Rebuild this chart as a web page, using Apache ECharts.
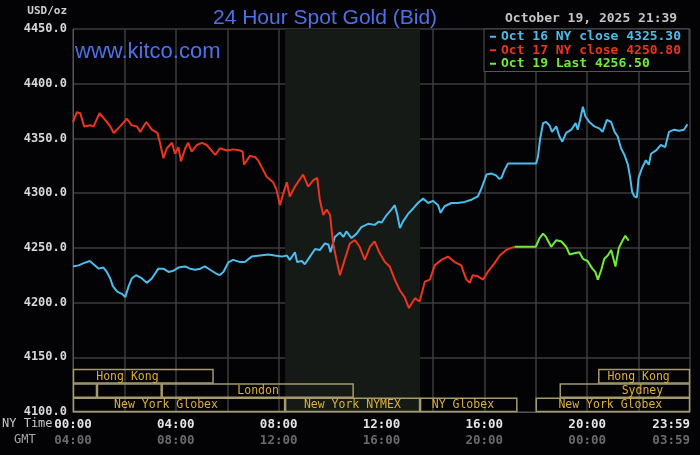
<!DOCTYPE html>
<html>
<head>
<meta charset="utf-8">
<script src="https://cdn.jsdelivr.net/npm/echarts@6/dist/echarts.min.js"></script>
<style>
html,body{margin:0;padding:0;background:#030305;}
#chart{width:700px;height:455px;}
</style>
</head>
<body>
<div id="chart"></div>
<script>
// minutes after NY midnight, price
var oct16 = [[0,4233],[13,4234],[25,4236],[39,4238],[48,4235],[60,4231],[71,4232],[79,4228],[87,4222],[93,4215],[103,4210],[114,4208],[122,4205],[130,4215],[137,4222],[147,4225],[161,4222],[172,4218],[184,4222],[199,4231],[211,4231],[223,4228],[234,4229],[246,4232],[262,4233],[273,4231],[285,4230],[297,4231],[308,4233],[320,4230],[332,4227],[342,4225],[351,4228],[363,4237],[374,4239],[390,4237],[401,4237],[417,4242],[436,4243],[456,4244],[471,4243],[487,4242],[499,4243],[506,4239],[518,4246],[523,4237],[534,4238],[541,4235],[553,4242],[565,4249],[576,4248],[588,4254],[596,4253],[601,4246],[611,4260],[623,4264],[631,4260],[638,4265],[650,4259],[662,4263],[673,4269],[689,4272],[704,4271],[714,4274],[720,4273],[732,4280],[743,4285],[751,4289],[757,4280],[763,4268],[770,4274],[782,4281],[794,4286],[805,4291],[817,4295],[829,4291],[840,4293],[852,4289],[858,4282],[867,4288],[883,4291],[898,4291],[914,4292],[930,4294],[945,4297],[953,4304],[965,4317],[976,4318],[988,4316],[995,4313],[1000,4314],[1007,4321],[1015,4327],[1081,4327],[1085,4333],[1090,4349],[1097,4364],[1104,4365],[1112,4362],[1118,4356],[1128,4361],[1135,4352],[1142,4347],[1151,4355],[1163,4358],[1173,4364],[1178,4358],[1184,4368],[1190,4379],[1196,4370],[1205,4365],[1217,4361],[1229,4359],[1236,4356],[1246,4367],[1256,4365],[1264,4356],[1271,4352],[1279,4341],[1287,4335],[1295,4326],[1300,4315],[1305,4301],[1310,4297],[1316,4296],[1320,4314],[1328,4323],[1337,4330],[1344,4326],[1349,4336],[1361,4339],[1372,4344],[1382,4342],[1391,4356],[1403,4358],[1415,4357],[1426,4358],[1434,4363]];
var oct17 = [[0,4365],[9,4374],[17,4373],[26,4361],[40,4362],[48,4361],[62,4373],[75,4367],[87,4361],[95,4355],[110,4361],[126,4368],[137,4362],[149,4361],[157,4356],[171,4365],[184,4358],[197,4355],[203,4346],[207,4339],[211,4332],[219,4341],[231,4346],[238,4336],[246,4342],[252,4329],[262,4341],[269,4346],[277,4338],[289,4344],[301,4346],[312,4344],[332,4335],[343,4341],[359,4339],[374,4340],[390,4339],[396,4338],[399,4326],[413,4334],[425,4333],[432,4330],[440,4324],[452,4315],[467,4310],[475,4303],[483,4289],[491,4300],[499,4310],[506,4297],[518,4306],[537,4317],[549,4306],[561,4312],[570,4314],[576,4294],[584,4280],[592,4285],[600,4280],[607,4254],[615,4239],[623,4225],[634,4239],[646,4254],[658,4257],[669,4251],[681,4239],[693,4251],[704,4256],[716,4245],[728,4237],[739,4233],[751,4221],[763,4211],[774,4205],[784,4195],[798,4204],[809,4201],[821,4219],[833,4221],[844,4234],[860,4239],[875,4242],[891,4237],[906,4234],[918,4221],[926,4218],[933,4225],[945,4224],[957,4221],[968,4228],[984,4236],[996,4243],[1011,4248],[1023,4250],[1031,4251]];
var oct19 = [[1031,4251],[1080,4251],[1083,4251],[1089,4259],[1097,4263],[1104,4260],[1116,4251],[1128,4257],[1139,4256],[1151,4251],[1159,4244],[1170,4245],[1182,4246],[1190,4240],[1201,4238],[1212,4231],[1219,4228],[1225,4221],[1233,4230],[1240,4240],[1248,4243],[1256,4248],[1266,4233],[1274,4250],[1283,4257],[1289,4261],[1297,4256.5]];

var legendNames = ['Oct 16 NY close 4325.30', 'Oct 17 NY close 4250.80', 'Oct 19 Last 4256.50'];
var lineColors = ['#4cbcec', '#ec3420', '#70ec38'];

var tickMinutes = [0, 240, 480, 720, 960, 1200, 1440];
var nyTicks = ['00:00', '04:00', '08:00', '12:00', '16:00', '20:00', '23:59'];
var gmtTicks = ['04:00', '08:00', '12:00', '16:00', '20:00', '00:00', '03:59'];

// market sessions: row 0 is the bottom row
var sessionNames = ['Hong Kong', '', '', 'London', 'New York Globex', 'New York NYMEX', 'NY Globex', 'New York Globex', 'Sydney', 'Hong Kong'];
var sessionStart = [0, 0, 56, 207, 0, 495, 810, 1080, 1136, 1226];
var sessionEnd = [328, 56, 207, 655, 495, 810, 1037, 1440, 1440, 1440];
var sessionRow = [2, 1, 1, 1, 0, 0, 0, 0, 1, 2];
var sessionLabelAt = [127, 0, 0, 432, 217, 652, 910, 1254, 1329, 1320];
var nymexShade = [495, 810];

var mono = 'DejaVu Sans Mono';

var sessionData = [];
for (var i = 0; i < sessionNames.length; i++) {
	sessionData.push([sessionStart[i], sessionEnd[i], sessionRow[i], sessionLabelAt[i]]);
}

var series = [
	{
		name: 'shade',
		type: 'line',
		data: [],
		z: 1,
		markArea: {
			silent: true,
			itemStyle: { color: '#161a16' },
			data: [[{ xAxis: nymexShade[0] }, { xAxis: nymexShade[1] }]]
		}
	},
	{
		type: 'custom',
		z: 4,
		silent: true,
		data: sessionData,
		renderItem: function (params, api) {
			var rowH = 14.3;
			var a = api.coord([api.value(0), 4100]);
			var b = api.coord([api.value(1), 4100]);
			var top = a[1] - (api.value(2) + 1) * rowH;
			var children = [{
				type: 'rect',
				shape: { x: a[0] + 0.5, y: top + 0.5, width: b[0] - a[0] - 1, height: rowH - 1 },
				style: { fill: null, stroke: '#a49a6c', lineWidth: 1.5 }
			}];
			var name = sessionNames[params.dataIndex];
			if (name) {
				children.push({
					type: 'text',
					style: {
						text: name,
						x: api.coord([api.value(3), 4100])[0],
						y: top + rowH / 2 + 0.5,
						align: 'center',
						verticalAlign: 'middle',
						fill: '#dcb034',
						font: '11.5px ' + mono
					}
				});
			}
			return { type: 'group', children: children };
		}
	}
];

var lineData = [oct16, oct17, oct19];
for (var k = 0; k < lineData.length; k++) {
	series.push({
		name: legendNames[k],
		type: 'line',
		data: lineData[k],
		z: 3,
		showSymbol: false,
		symbol: 'none',
		animation: false,
		color: lineColors[k],
		lineStyle: { color: lineColors[k], width: 2 }
	});
}

var option = {
	backgroundColor: '#030305',
	animation: false,
	title: {
		text: '24 Hour Spot Gold (Bid)',
		left: 208,
		top: 3,
		textStyle: { color: '#4f71e6', fontSize: 21, fontWeight: 'normal', fontFamily: 'Liberation Sans' }
	},
	legend: {
		orient: 'vertical',
		left: 484,
		top: 29,
		icon: 'rect',
		itemWidth: 6,
		itemHeight: 2,
		itemGap: 0,
		padding: [1, 8, 1, 6],
		backgroundColor: '#030305',
		borderColor: '#555',
		borderWidth: 1,
		borderRadius: 0,
		selectedMode: false,
		textStyle: { fontFamily: mono, fontWeight: 'bold', fontSize: 13, lineHeight: 13.5, padding: [0, 0, 0, 0] },
		data: legendNames.map(function (n, i) {
			return { name: n, textStyle: { color: lineColors[i] } };
		})
	},
	graphic: [
		{ type: 'text', right: 633, top: 6, style: { text: 'USD/oz', fill: '#cfcfcf', font: 'bold 11px ' + mono } },
		{ type: 'text', left: 505, top: 12, style: { text: 'October 19, 2025 21:39', fill: '#c4c4c4', font: 'bold 13px ' + mono } },
		{ type: 'text', left: 75, top: 41, z: 10, style: { text: 'www.kitco.com', fill: '#4f71e6', font: '22px "Liberation Sans"' } },
		{ type: 'text', left: 2, top: 418, style: { text: 'NY Time', fill: '#c8c8c8', font: '12px ' + mono } },
		{ type: 'text', left: 14, top: 434, style: { text: 'GMT', fill: '#a8a8a8', font: '12px ' + mono } }
	],
	grid: { left: 73, right: 10, top: 29, bottom: 43 },
	xAxis: {
		type: 'value',
		min: 0,
		max: 1440,
		interval: 120,
		axisLine: { show: true, lineStyle: { color: '#555' } },
		axisTick: { show: false },
		splitLine: { show: true, lineStyle: { color: '#3d3d3d', width: 1.5 } },
		axisLabel: {
			margin: 5,
			showMaxLabel: true,
			showMinLabel: true,
			alignMaxLabel: 'right',
			formatter: function (v) {
				var i = tickMinutes.indexOf(v);
				if (i < 0) return '';
				return '{ny|' + nyTicks[i] + '}\n{gmt|' + gmtTicks[i] + '}';
			},
			rich: {
				ny: { color: '#e4e4e4', fontFamily: mono, fontWeight: 'bold', fontSize: 12.5, lineHeight: 16 },
				gmt: { color: '#6a6a6a', fontFamily: mono, fontWeight: 'bold', fontSize: 12.5, lineHeight: 16 }
			}
		}
	},
	yAxis: {
		type: 'value',
		min: 4100,
		max: 4450,
		interval: 50,
		axisLine: { show: true, lineStyle: { color: '#555' } },
		axisTick: { show: false },
		splitLine: { show: true, lineStyle: { color: '#3d3d3d', width: 1.5 } },
		axisLabel: {
			margin: 6,
			color: '#d8d8d8',
			fontFamily: mono,
			fontWeight: 'bold',
			fontSize: 12,
			formatter: function (v) { return v.toFixed(1); }
		}
	},
	series: series
};

var chart = echarts.init(document.getElementById('chart'));
chart.setOption(option);
</script>
</body>
</html>
